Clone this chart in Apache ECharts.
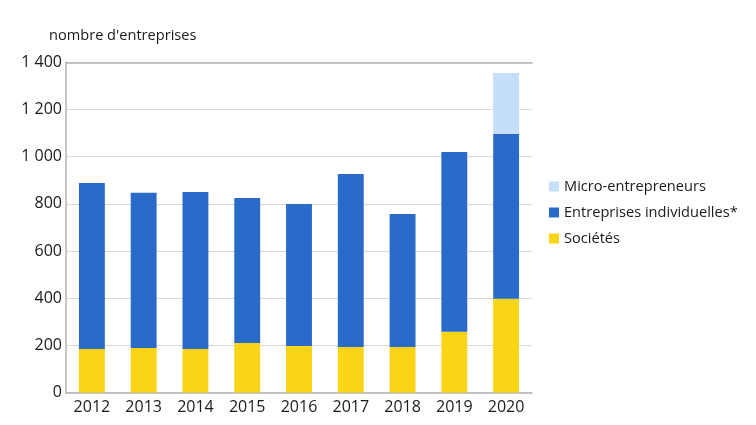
<!DOCTYPE html>
<html><head><meta charset="utf-8">
<script src="https://cdn.jsdelivr.net/npm/echarts@6/dist/echarts.min.js"></script>
<style>html,body{margin:0;padding:0;background:#fff}#c{width:756px;height:425px}</style>
</head><body><div id="c"></div>
<script>
var categories = ['2012','2013','2014','2015','2016','2017','2018','2019','2020'];
var societes = [184, 189, 184, 210, 197, 193, 193, 258, 397];
var entreprisesIndividuelles = [704, 658, 666, 615, 602, 733, 564, 762, 699];
var microEntrepreneurs = [null, null, null, null, null, null, null, null, 259];
var yTicks = [0, 200, 400, 600, 800, 1000, 1200, 1400];

var chart = echarts.init(document.getElementById('c'), null, {renderer: 'canvas'});
var font = '"Open Sans", "Noto Sans", sans-serif';
function fmt(v){ return String(v).replace(/\B(?=(\d{3})+(?!\d))/g, ' '); }
chart.setOption({
  animation: false,
  textStyle: {fontFamily: font},
  title: {text: "nombre d'entreprises", left: 44, top: 23,
    textStyle: {fontSize: 14.6, fontWeight: 'normal', color: '#1a1a1a', fontFamily: font}},
  legend: {
    orient: 'vertical', left: 549, top: 179, itemGap: 11, padding: 0,
    itemWidth: 10, itemHeight: 10, icon: 'rect',
    data: ['Micro-entrepreneurs', 'Entreprises individuelles*', 'Sociétés'],
    textStyle: {fontSize: 14.6, color: '#1a1a1a', fontFamily: font, padding: [0,0,0,0]}
  },
  grid: {left: 66, top: 62.3, width: 466, height: 330.2, containLabel: false},
  xAxis: [{
    type: 'category', data: categories,
    axisLine: {lineStyle: {color: '#b3b3b3', width: 1.5}},
    axisTick: {show: false},
    axisLabel: {fontSize: 16, color: '#1a1a1a', margin: 7, fontFamily: font}
  }, {
    type: 'category', data: categories, position: 'top',
    axisLine: {show: true, lineStyle: {color: '#b3b3b3', width: 1.5}},
    axisTick: {show: false}, axisLabel: {show: false}
  }],
  yAxis: {
    type: 'value', min: yTicks[0], max: yTicks[yTicks.length-1], interval: 200,
    axisLine: {show: true, lineStyle: {color: '#b3b3b3', width: 1.5}},
    axisTick: {show: false},
    splitLine: {lineStyle: {color: '#d9d9d9', width: 1}},
    axisLabel: {fontSize: 16, color: '#1a1a1a', margin: 4, formatter: fmt, fontFamily: font}
  },
  series: [
    {name: 'Sociétés', type: 'bar', stack: 't', data: societes, barWidth: '50%',
      itemStyle: {color: '#fad416'}},
    {name: 'Entreprises individuelles*', type: 'bar', stack: 't', data: entreprisesIndividuelles,
      itemStyle: {color: '#2a6bc9'}},
    {name: 'Micro-entrepreneurs', type: 'bar', stack: 't', data: microEntrepreneurs,
      itemStyle: {color: '#c5dffa'}}
  ]
});
</script></body></html>
